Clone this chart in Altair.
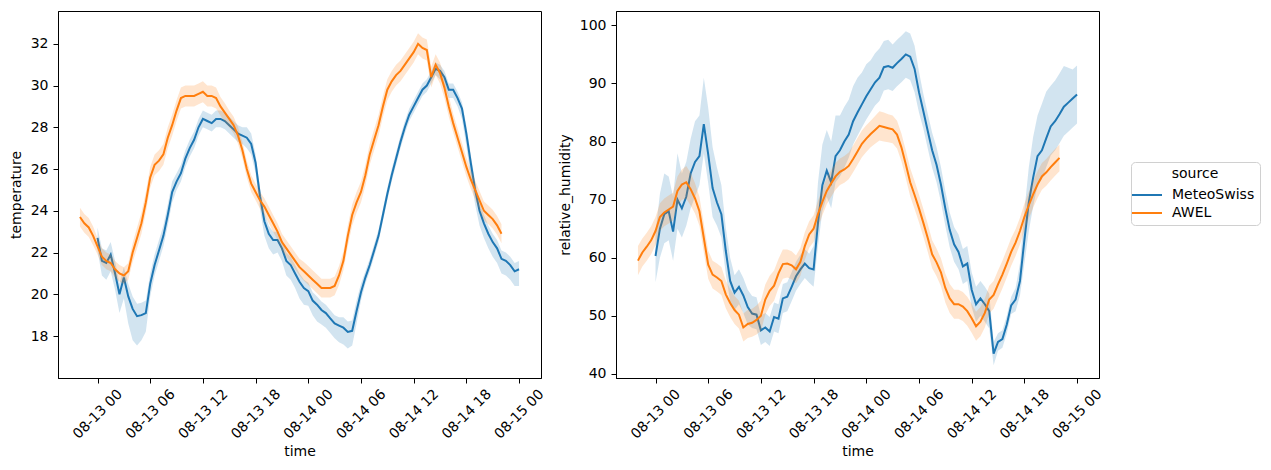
import altair as alt
import pandas as pd

# ---------------- data (30-min grid) ----------------
METEO_START = "2023-08-13 00:00"   # MeteoSwiss: 08-13 00:00 .. 08-15 00:00
AWEL_START = "2023-08-12 22:00"    # AWEL: 08-12 22:00 .. 08-14 22:00
N_POINTS = 97
SOURCES = ["MeteoSwiss", "AWEL"]
COLORS = ["#1f77b4", "#ff7f0e"]

temp_meteo = [22.7, 21.6, 21.5, 21.9, 21.0, 20.0, 20.8, 19.9, 19.3, 18.95, 19.0, 19.1,
              20.5, 21.4, 22.1, 22.8, 23.8, 24.9, 25.4, 25.8, 26.5, 27.0, 27.4, 28.0,
              28.4, 28.3, 28.2, 28.4, 28.4, 28.3, 28.1, 27.9, 27.7, 27.6, 27.5, 27.2,
              26.3, 24.7, 23.5, 22.9, 22.6, 22.6, 22.2, 21.6, 21.4, 21.0, 20.6, 20.3,
              20.15, 19.7, 19.5, 19.25, 19.1, 18.85, 18.6, 18.5, 18.4, 18.2, 18.25, 19.2,
              20.1, 20.8, 21.4, 22.1, 22.8, 23.8, 24.8, 25.7, 26.5, 27.3, 28.0, 28.6,
              29.0, 29.4, 29.8, 30.0, 30.4, 30.8, 30.7, 30.4, 29.8, 29.8, 29.4, 28.9,
              27.7, 26.3, 25.0, 24.0, 23.4, 22.9, 22.5, 22.2, 21.7, 21.6, 21.4, 21.1,
              21.2]
temp_meteo_lo = [0.6, 0.7, 0.8, 0.8, 0.8, 0.9, 1.0, 1.3, 1.5, 1.4, 1.2, 0.9,
                 0.6, 0.5, 0.5, 0.5, 0.5, 0.5, 0.4, 0.4, 0.4, 0.4, 0.4, 0.4,
                 0.4, 0.4, 0.4, 0.4, 0.4, 0.4, 0.4, 0.4, 0.4, 0.4, 0.5, 0.5,
                 0.5, 0.6, 0.7, 0.7, 0.7, 0.6, 0.6, 0.7, 0.7, 0.7, 0.8, 0.8,
                 0.7, 0.7, 0.8, 0.7, 0.7, 0.7, 0.7, 0.8, 0.8, 0.8, 0.7, 0.6,
                 0.4, 0.3, 0.3, 0.3, 0.3, 0.3, 0.3, 0.3, 0.3, 0.3, 0.3, 0.3,
                 0.3, 0.3, 0.3, 0.3, 0.3, 0.3, 0.4, 0.4, 0.4, 0.4, 0.4, 0.5,
                 0.6, 0.7, 0.7, 0.7, 0.7, 0.7, 0.7, 0.7, 0.7, 0.7, 0.7, 0.7,
                 0.8]
temp_meteo_hi = [0.5, 0.6, 0.6, 0.6, 0.6, 0.5, 0.5, 0.6, 0.6, 0.6, 0.6, 0.6,
                 0.5, 0.5, 0.5, 0.5, 0.5, 0.5, 0.4, 0.4, 0.4, 0.4, 0.4, 0.4,
                 0.4, 0.4, 0.4, 0.4, 0.4, 0.4, 0.4, 0.4, 0.4, 0.4, 0.5, 0.5,
                 0.4, 0.4, 0.4, 0.4, 0.4, 0.4, 0.4, 0.4, 0.4, 0.4, 0.4, 0.4,
                 0.4, 0.4, 0.4, 0.4, 0.4, 0.4, 0.4, 0.4, 0.5, 0.5, 0.5, 0.5,
                 0.4, 0.3, 0.3, 0.3, 0.3, 0.3, 0.3, 0.3, 0.3, 0.3, 0.3, 0.3,
                 0.3, 0.3, 0.3, 0.3, 0.3, 0.3, 0.3, 0.3, 0.3, 0.3, 0.3, 0.3,
                 0.4, 0.4, 0.4, 0.4, 0.4, 0.4, 0.4, 0.4, 0.4, 0.4, 0.4, 0.4,
                 0.4]

temp_awel = [23.7, 23.4, 23.2, 22.8, 22.3, 21.8, 21.6, 21.5, 21.2, 21.0, 20.9, 21.1,
             22.0, 22.7, 23.4, 24.4, 25.6, 26.2, 26.4, 26.7, 27.5, 28.1, 28.8, 29.4,
             29.5, 29.5, 29.5, 29.6, 29.7, 29.5, 29.5, 29.4, 29.0, 28.7, 28.4, 28.1,
             27.6, 26.9, 26.0, 25.3, 24.9, 24.5, 24.2, 23.8, 23.4, 23.0, 22.5, 22.2,
             21.9, 21.6, 21.3, 21.1, 20.9, 20.7, 20.5, 20.3, 20.3, 20.3, 20.4, 20.9,
             21.6, 22.8, 23.8, 24.4, 24.9, 25.7, 26.7, 27.4, 28.1, 29.0, 29.8, 30.2,
             30.5, 30.7, 31.0, 31.3, 31.6, 32.0, 31.8, 31.7, 30.4, 31.0, 30.6, 29.9,
             29.0, 28.2, 27.5, 26.8, 26.1, 25.5, 25.0, 24.5, 24.0, 23.8, 23.6, 23.3,
             22.9]
temp_awel_half = [0.45, 0.45, 0.45, 0.45, 0.4, 0.4, 0.4, 0.4, 0.4, 0.4, 0.4, 0.4,
                  0.45, 0.5, 0.5, 0.5, 0.5, 0.5, 0.5, 0.5, 0.5, 0.5, 0.5, 0.5,
                  0.5, 0.5, 0.5, 0.5, 0.5, 0.5, 0.5, 0.5, 0.45, 0.45, 0.4, 0.4,
                  0.4, 0.4, 0.4, 0.4, 0.4, 0.4, 0.4, 0.4, 0.4, 0.4, 0.4, 0.4,
                  0.4, 0.4, 0.4, 0.45, 0.45, 0.45, 0.45, 0.45, 0.45, 0.45, 0.45, 0.45,
                  0.45, 0.5, 0.5, 0.5, 0.5, 0.5, 0.5, 0.5, 0.5, 0.5, 0.5, 0.5,
                  0.5, 0.5, 0.5, 0.5, 0.5, 0.5, 0.5, 0.5, 0.5, 0.5, 0.5, 0.5,
                  0.5, 0.45, 0.45, 0.45, 0.45, 0.45, 0.45, 0.45, 0.45, 0.45, 0.45, 0.45,
                  0.45]

rh_meteo = [60.3, 65.0, 67.5, 68.0, 64.5, 70.0, 68.5, 70.5, 74.5, 76.5, 77.5, 83.0,
            77.8, 72.0, 69.5, 67.5, 61.2, 56.0, 54.0, 55.0, 53.5, 51.5, 50.4, 50.2,
            47.5, 48.0, 47.3, 49.8, 49.5, 53.0, 53.3, 55.0, 56.8, 58.0, 59.0, 58.2,
            58.0, 66.0, 72.5, 75.0, 73.0, 77.5, 78.5, 80.0, 81.2, 83.5, 85.0, 86.4,
            87.8, 89.0, 90.2, 91.0, 92.8, 93.0, 92.7, 93.5, 94.2, 95.0, 94.6, 92.5,
            88.5, 85.2, 81.8, 78.5, 76.0, 72.6, 68.5, 64.8, 62.3, 61.0, 58.5, 59.0,
            54.5, 52.0, 53.0, 52.0, 50.8, 43.5, 45.5, 46.0, 48.5, 51.8, 52.8, 56.0,
            63.0, 69.5, 73.8, 77.5, 78.5, 80.6, 82.6, 83.5, 84.7, 86.0, 86.7, 87.4,
            88.1]
rh_meteo_lo = [4.5, 5, 5, 5, 5, 5, 5, 5, 6, 6, 5, 5,
               5, 5, 4, 4, 4, 3.5, 3, 3, 3, 3, 2.5, 2.5,
               2.5, 2.5, 2.5, 2.5, 2.5, 2.5, 2.5, 2.5, 2.5, 2.5, 2.5, 2.5,
               3, 4, 4.5, 4.5, 4.5, 4.5, 4.5, 4.5, 4, 4, 4, 4,
               4, 4, 4, 4, 4, 4, 4, 4, 4, 4, 4, 4,
               3.5, 3, 3, 3, 3, 3, 3, 3, 3, 3, 3, 3,
               3, 3, 3, 3, 3, 2, 1.5, 1.5, 1.5, 1.5, 2, 2.5,
               4, 5, 5, 5, 5, 5, 5, 5, 5, 5, 5, 5,
               5]
rh_meteo_hi = [4, 6, 7, 6, 6, 8, 6, 6, 6, 7, 7, 8,
               8, 7, 6, 5, 4, 4, 3, 3, 3, 3, 3, 3,
               2.5, 2.5, 2.5, 2.5, 2.5, 2.5, 2.5, 2.5, 2.5, 2.5, 2.5, 2.5,
               4, 7, 7, 7, 7, 7, 6, 6, 6, 6, 6, 5.5,
               5.5, 5, 5, 5, 4.5, 4.5, 4, 4, 4, 4, 4, 4,
               3.5, 3, 3, 3, 3, 3, 3, 3, 3, 3, 3, 3,
               3, 3, 3, 3, 3, 2, 1.5, 1.5, 1.5, 1.5, 2, 3,
               5, 6, 7, 7, 8, 8, 7, 7, 7, 7, 6, 5,
               5]

rh_awel = [59.5, 60.9, 61.9, 63.0, 64.6, 67.0, 67.8, 68.3, 68.8, 71.5, 72.6, 73.0,
           71.8, 70.2, 68.0, 63.4, 58.8, 57.1, 56.6, 56.0, 53.7, 52.2, 51.0, 50.2,
           48.0, 48.6, 48.8, 49.3, 50.0, 52.8, 54.3, 55.2, 57.3, 58.9, 59.0, 58.7,
           58.0, 59.3, 62.0, 64.0, 65.0, 67.5, 69.6, 71.5, 72.8, 74.0, 74.8, 75.2,
           75.8, 77.0, 78.3, 79.6, 80.5, 81.3, 82.0, 82.7, 82.5, 82.3, 82.1, 81.2,
           79.0, 76.1, 73.0, 70.8, 68.5, 66.0, 63.4, 60.6, 59.2, 57.5, 54.8, 53.0,
           52.0, 52.0, 51.6, 50.8, 49.6, 48.2, 49.0, 50.5, 52.8, 53.6, 55.4, 57.1,
           59.0, 61.0, 62.6, 64.6, 67.0, 69.0, 70.9, 72.6, 74.0, 74.7, 75.6, 76.4,
           77.2]
rh_awel_half = [2.5, 2.4, 2.4, 2.4, 2.4, 2.4, 2.4, 2.4, 2.4, 2.5, 2.6, 2.8,
                2.8, 2.6, 2.5, 2.5, 2.4, 2.4, 2.4, 2.4, 2.4, 2.4, 2.4, 2.4,
                2.4, 2.4, 2.4, 2.5, 2.6, 2.6, 2.6, 2.6, 2.5, 2.5, 2.4, 2.4,
                2.4, 2.4, 2.4, 2.3, 2.3, 2.3, 2.3, 2.3, 2.3, 2.3, 2.3, 2.3,
                2.3, 2.3, 2.3, 2.3, 2.3, 2.3, 2.4, 2.5, 2.5, 2.4, 2.4, 2.4,
                2.4, 2.4, 2.4, 2.4, 2.4, 2.4, 2.4, 2.4, 2.4, 2.4, 2.5, 2.5,
                2.5, 2.5, 2.5, 2.5, 2.5, 2.5, 2.5, 2.5, 2.4, 2.4, 2.4, 2.4,
                2.4, 2.4, 2.3, 2.3, 2.3, 2.3, 2.3, 2.3, 2.3, 2.3, 2.3, 2.3,
                2.3]

# ---------------- tables ----------------
def fmt(ts):
    return [t.strftime("%Y-%m-%dT%H:%M:%S") for t in ts]

t_meteo = fmt(pd.date_range(METEO_START, periods=N_POINTS, freq="30min"))
t_awel = fmt(pd.date_range(AWEL_START, periods=N_POINTS, freq="30min"))

meteo = pd.DataFrame({
    "time": t_meteo, "source": "MeteoSwiss",
    "temperature": temp_meteo,
    "t_lo": [v - d for v, d in zip(temp_meteo, temp_meteo_lo)],
    "t_hi": [v + d for v, d in zip(temp_meteo, temp_meteo_hi)],
    "relative_humidity": rh_meteo,
    "h_lo": [v - d for v, d in zip(rh_meteo, rh_meteo_lo)],
    "h_hi": [v + d for v, d in zip(rh_meteo, rh_meteo_hi)],
})
awel = pd.DataFrame({
    "time": t_awel, "source": "AWEL",
    "temperature": temp_awel,
    "t_lo": [v - d for v, d in zip(temp_awel, temp_awel_half)],
    "t_hi": [v + d for v, d in zip(temp_awel, temp_awel_half)],
    "relative_humidity": rh_awel,
    "h_lo": [v - d for v, d in zip(rh_awel, rh_awel_half)],
    "h_hi": [v + d for v, d in zip(rh_awel, rh_awel_half)],
})

FONT = "DejaVu Sans"
x_domain = [alt.DateTime(year=2023, month=8, date=12, hours=19, minutes=30),
            alt.DateTime(year=2023, month=8, date=15, hours=2, minutes=30)]
x_ticks = [alt.DateTime(year=2023, month=8, date=13 + d, hours=h)
           for d in range(3) for h in (0, 6, 12, 18) if not (d == 2 and h > 0)]

color_scale = alt.Scale(domain=SOURCES, range=COLORS)
legend = alt.Legend(title="source", orient="none", legendX=1073, legendY=151,
                    symbolType="M-1.5,0L1.5,0", symbolSize=400, symbolStrokeWidth=2,
                    symbolOpacity=1, labelOffset=14, padding=5, rowPadding=0,
                    strokeColor="#d0d0d0", fillColor="white", cornerRadius=4,
                    titleAnchor="middle", titleAlign="center", titlePadding=3)


def panel(field, lo, hi, domain, ticks, ytitle):
    x = alt.X("time:T", title="time",
              scale=alt.Scale(domain=x_domain, nice=False),
              axis=alt.Axis(values=x_ticks, format="%m-%d %H", labelAngle=315,
                            labelAlign="center", labelBaseline="middle",
                            labelPadding=31, titlePadding=3, labelOverlap=False))
    yscale = alt.Scale(domain=domain, nice=False, zero=False)
    yaxis = alt.Axis(values=ticks, titlePadding=7)
    color = alt.Color("source:N", scale=color_scale, legend=legend)
    layers = []
    for df in (meteo, awel):
        base = alt.Chart(df)
        line = base.mark_line(strokeWidth=2).encode(
            x=x,
            y=alt.Y(f"{field}:Q", scale=yscale, axis=yaxis, title=ytitle),
            color=color,
        )
        band = base.mark_area(opacity=0.2).encode(
            x=x,
            y=alt.Y(f"{lo}:Q", scale=yscale, axis=yaxis, title=ytitle),
            y2=f"{hi}:Q",
            color=color,
        )
        layers += [line, band]
    return alt.layer(*layers).properties(width=483, height=367)


left = panel("temperature", "t_lo", "t_hi", [15.99, 33.57],
             [18, 20, 22, 24, 26, 28, 30, 32], "temperature")
right = panel("relative_humidity", "h_lo", "h_hi", [39.3, 102.47],
              [40, 50, 60, 70, 80, 90, 100], "relative_humidity")

chart = alt.hconcat(left, right, spacing=10).properties(
    padding={"left": 8, "top": 10, "right": 5, "bottom": 5}
).configure_view(
    stroke="black", strokeWidth=1
).configure_axis(
    grid=False, labelFont=FONT, titleFont=FONT, labelFontSize=14, titleFontSize=14,
    titleFontWeight="normal", labelColor="black", titleColor="black",
    domainColor="black", tickColor="black", tickSize=5, labelPadding=5,
    domainWidth=1, tickWidth=1
).configure_legend(
    labelFont=FONT, titleFont=FONT, labelFontSize=14, titleFontSize=14,
    titleFontWeight="normal", labelColor="black", titleColor="black"
)

chart.save("out.html", embed_options={"renderer": "svg", "actions": False})
